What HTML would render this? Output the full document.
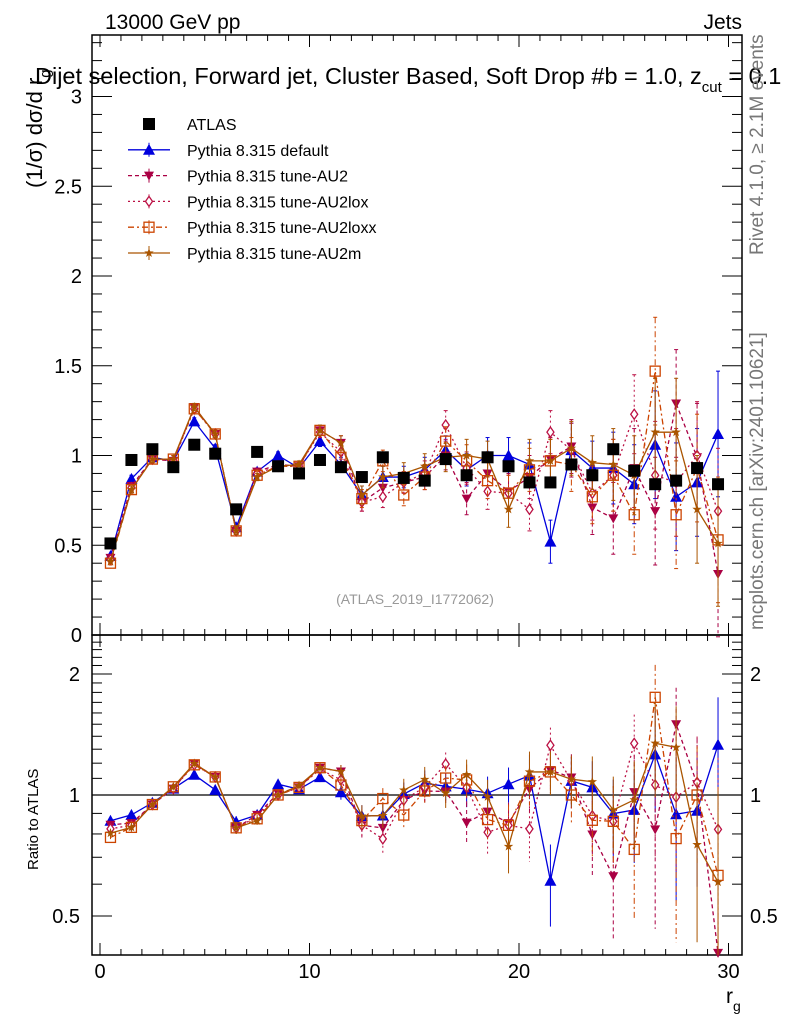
<!DOCTYPE html>
<html><head><meta charset="utf-8"><style>
body{margin:0;background:#fff;}
svg{display:block;font-family:"Liberation Sans",sans-serif;}
</style></head><body>
<svg id="chart" width="786" height="1024" viewBox="0 0 786 1024" xmlns="http://www.w3.org/2000/svg">
<g id="static">
<text x="105" y="29" font-size="21">13000 GeV pp</text>
<text x="742" y="29" font-size="21" text-anchor="end">Jets</text>
<text x="35" y="84" font-size="23.5">Dijet selection, Forward jet, Cluster Based, Soft Drop #b = 1.0, z<tspan font-size="15" dy="8">cut</tspan><tspan dy="-8"> = 0.1</tspan></text>
<text transform="translate(42,188) rotate(-90)" font-size="22">(1/σ) dσ/d r<tspan font-size="15" dy="8">g</tspan></text>
<text transform="translate(38,870) rotate(-90)" font-size="15">Ratio to ATLAS</text>
<text x="726" y="1003" font-size="21">r<tspan font-size="14" dy="8">g</tspan></text>
<text transform="translate(763,255) rotate(-90)" font-size="19" fill="#777">Rivet 4.1.0, ≥ 2.1M events</text>
<text transform="translate(763,630) rotate(-90)" font-size="19" fill="#777">mcplots.cern.ch [arXiv:2401.10621]</text>
<text x="415" y="604" font-size="14" fill="#999" text-anchor="middle">(ATLAS_2019_I1772062)</text>
</g>
<g id="plot"></g>
</svg>
<script>
const xCenters=[0.5,1.5,2.5,3.5,4.5,5.5,6.5,7.5,8.5,9.5,10.5,11.5,12.5,13.5,14.5,15.5,16.5,17.5,18.5,19.5,20.5,21.5,22.5,23.5,24.5,25.5,26.5,27.5,28.5,29.5];
const atlas=[0.51,0.975,1.035,0.935,1.06,1.01,0.70,1.02,0.94,0.90,0.975,0.935,0.88,0.99,0.875,0.86,0.98,0.89,0.99,0.94,0.85,0.85,0.95,0.89,1.035,0.915,0.84,0.86,0.93,0.84];
const pyDefault=[0.44,0.87,0.99,0.97,1.19,1.04,0.60,0.91,1.0,0.93,1.08,0.95,0.78,0.88,0.88,0.92,1.03,0.92,1.0,1.0,0.95,0.52,1.03,0.93,0.93,0.84,1.06,0.77,0.85,1.12];
const pyAU2=[0.43,0.83,0.98,0.97,1.27,1.12,0.58,0.91,0.95,0.94,1.14,1.07,0.74,0.82,0.85,0.88,1.0,0.76,0.9,0.80,0.88,0.98,1.05,0.71,0.65,0.93,0.69,1.29,0.99,0.34];
const pyAU2lox=[0.42,0.82,0.98,0.97,1.26,1.12,0.58,0.90,0.94,0.94,1.13,1.02,0.74,0.77,0.85,0.90,1.17,0.93,0.80,0.79,0.70,1.13,1.03,0.79,0.89,1.23,0.89,0.85,1.0,0.69];
const pyAU2loxx=[0.40,0.81,0.98,0.98,1.26,1.12,0.58,0.89,0.94,0.94,1.14,0.99,0.76,0.97,0.78,0.88,1.08,0.97,0.86,0.79,0.92,0.97,0.95,0.77,0.89,0.67,1.47,0.67,0.93,0.53];
const pyAU2m=[0.41,0.81,0.98,0.98,1.27,1.12,0.58,0.88,0.94,0.95,1.14,1.07,0.78,0.88,0.90,0.94,0.99,1.0,0.98,0.70,0.97,0.97,1.04,0.96,0.95,0.89,1.13,1.13,0.70,0.51];
const mcErr=[0.01,0.02,0.02,0.02,0.02,0.02,0.02,0.02,0.02,0.02,0.03,0.04,0.05,0.06,0.06,0.07,0.08,0.09,0.1,0.1,0.12,0.12,0.15,0.15,0.2,0.22,0.3,0.3,0.3,0.35];
const yTicks=[0,0.5,1,1.5,2,2.5,3];
const yTickLabels=["0","0.5","1","1.5","2","2.5","3"];
const xTicks=[0,10,20,30];
const xTickLabels=["0","10","20","30"];
const rTicks=[0.5,1,2];
const rTickLabels=["0.5","1","2"];

const L=92,R=742,T=35,M=635,B=955;
const X=v=>100+(v)*20.95;
const Y=v=>635-v*179.5;
const RY=v=>795-Math.log2(v)*121;
const NS="http://www.w3.org/2000/svg";
const g=document.getElementById('plot');
function el(tag,attrs,parent){const e=document.createElementNS(NS,tag);for(const k in attrs)e.setAttribute(k,attrs[k]);(parent||g).appendChild(e);return e;}

let f1=el('rect',{x:L,y:T,width:R-L,height:M-T,fill:'none',stroke:'#000','stroke-width':1.5});


let f2=el('rect',{x:L,y:M,width:R-L,height:B-M,fill:'none',stroke:'#000','stroke-width':1.5});



for(let v=0;v<=30;v++){const len=(v%10===0)?12:6;const x=X(v);
 [[M,-1],[B,-1],[T,1]].forEach(([yy,d])=>{el('line',{x1:x,x2:x,y1:yy,y2:yy+d*len,stroke:'#000'});});
 el('line',{x1:x,x2:x,y1:M,y2:M+len,stroke:'#000'});}
xTicks.forEach((v,i)=>{const t=el('text',{x:X(v),y:978,'font-size':20,'text-anchor':'middle'});t.textContent=xTickLabels[i];

});
for(let k=0;k<=33;k++){const v=k*0.1;const y=Y(v);if(y<T)continue;const len=(k%5===0)?20:10;
 el('line',{x1:L,x2:L+len,y1:y,y2:y,stroke:'#000'});el('line',{x1:R,x2:R-len,y1:y,y2:y,stroke:'#000'});}
yTicks.forEach((v,i)=>{const t=el('text',{x:82,y:Y(v)+7,'font-size':20,'text-anchor':'end'});t.textContent=yTickLabels[i];

});
for(let v=0.4;v<=2.51;v+=0.1){const y=RY(v);if(y>B||y<M)continue;const major=[0.5,1,2].some(m=>Math.abs(m-v)<1e-6);const len=major?20:10;
 el('line',{x1:L,x2:L+len,y1:y,y2:y,stroke:'#000'});el('line',{x1:R,x2:R-len,y1:y,y2:y,stroke:'#000'});}
rTicks.forEach((v,i)=>{[[80,'end'],[750,'start']].forEach(([x,a])=>{const t=el('text',{x:x,y:RY(v)+7,'font-size':20,'text-anchor':a});t.textContent=rTickLabels[i];

});});
el('line',{x1:L,x2:R,y1:RY(1),y2:RY(1),stroke:'#000','stroke-width':1.2});

function marker(p,type,x,y,col){
 if(type==='sq')return el('rect',{x:x-6,y:y-6,width:12,height:12,fill:'#000'},p);
 if(type==='tri')return el('path',{d:`M${x},${y-6}L${x+6},${y+5}L${x-6},${y+5}Z`,fill:col},p);
 if(type==='tridown')return el('path',{d:`M${x},${y+5}L${x+5},${y-4}L${x-5},${y-4}Z`,fill:col},p);
 if(type==='dia')return el('path',{d:`M${x},${y-5}L${x+3.5},${y}L${x},${y+5}L${x-3.5},${y}Z`,fill:'#fff',stroke:col,'stroke-width':1.3},p);
 if(type==='osq')return el('rect',{x:x-5,y:y-5,width:10,height:10,fill:'none',stroke:col,'stroke-width':1.3},p);
 if(type==='star'){let d='';for(let k=0;k<10;k++){const r=k%2?2:5;const a=-Math.PI/2+k*Math.PI/5;d+=(k?'L':'M')+(x+r*Math.cos(a))+','+(y+r*Math.sin(a));}return el('path',{d:d+'Z',fill:col},p);}
}
const series=[
 {name:'pythia-default',vals:pyDefault,col:'#0000dd',m:'tri',dash:'',label:'Pythia 8.315 default'},
 {name:'pythia-au2',vals:pyAU2,col:'#aa0044',m:'tridown',dash:'4,3',label:'Pythia 8.315 tune-AU2'},
 {name:'pythia-au2lox',vals:pyAU2lox,col:'#bb1144',m:'dia',dash:'2,3',label:'Pythia 8.315 tune-AU2lox'},
 {name:'pythia-au2loxx',vals:pyAU2loxx,col:'#cc4400',m:'osq',dash:'6,3,2,3',label:'Pythia 8.315 tune-AU2loxx'},
 {name:'pythia-au2m',vals:pyAU2m,col:'#aa5500',m:'star',dash:'',label:'Pythia 8.315 tune-AU2m'}];
series.forEach(s=>{
 const gm=el('g',{});
 
 
 const gr=el('g',{});
 
 
 let d='',dr='';
 xCenters.forEach((xc,i)=>{const x=X(xc),v=s.vals[i],e=mcErr[i],r=v/atlas[i],re=e/atlas[i];
  d+=(i?'L':'M')+x+','+Y(v);dr+=(i?'L':'M')+x+','+RY(r);
  el('line',{x1:x,x2:x,y1:Y(v+e),y2:Y(Math.max(v-e,0.01)),stroke:s.col,'stroke-dasharray':s.dash},gm);
  el('line',{x1:x-2,x2:x+2,y1:Y(v+e),y2:Y(v+e),stroke:s.col},gm);el('line',{x1:x-2,x2:x+2,y1:Y(v-e),y2:Y(v-e),stroke:s.col},gm);
  const ry1=Math.max(RY(r+re),M),ry2=Math.min(RY(Math.max(r-re,0.3)),B);
  el('line',{x1:x,x2:x,y1:ry1,y2:ry2,stroke:s.col,'stroke-dasharray':s.dash},gr);
 });
 el('path',{d:d,fill:'none',stroke:s.col,'stroke-width':1.3,'stroke-dasharray':s.dash},gm);
 el('path',{d:dr,fill:'none',stroke:s.col,'stroke-width':1.3,'stroke-dasharray':s.dash},gr);
 xCenters.forEach((xc,i)=>{const mk=marker(gm,s.m,X(xc),Y(s.vals[i]),s.col);
  
  
  const r=s.vals[i]/atlas[i];const yr=RY(r);if(yr>=M&&yr<=B){const mr=marker(gr,s.m,X(xc),yr,s.col);
  
  }});
});
const ga=el('g',{});


xCenters.forEach((xc,i)=>{const mk=marker(ga,'sq',X(xc),Y(atlas[i]));
 
 });

const lg=el('g',{});


const rows=[{label:'ATLAS',m:'sq',col:'#000',dash:null}].concat(series);
rows.forEach((s,i)=>{const y=124+i*25.8;
 const le=el('g',{},lg);
 
 
 if(s.dash!==null){el('line',{x1:128,x2:170,y1:y,y2:y,stroke:s.col,'stroke-width':1.3,'stroke-dasharray':s.dash},le);
  el('line',{x1:149,x2:149,y1:y-7,y2:y+7,stroke:s.col},le);}
 marker(le,s.m,149,y,s.col);
 const t=el('text',{x:187,y:y+6,'font-size':16},le);t.textContent=s.label;});
</script>
</body></html>
